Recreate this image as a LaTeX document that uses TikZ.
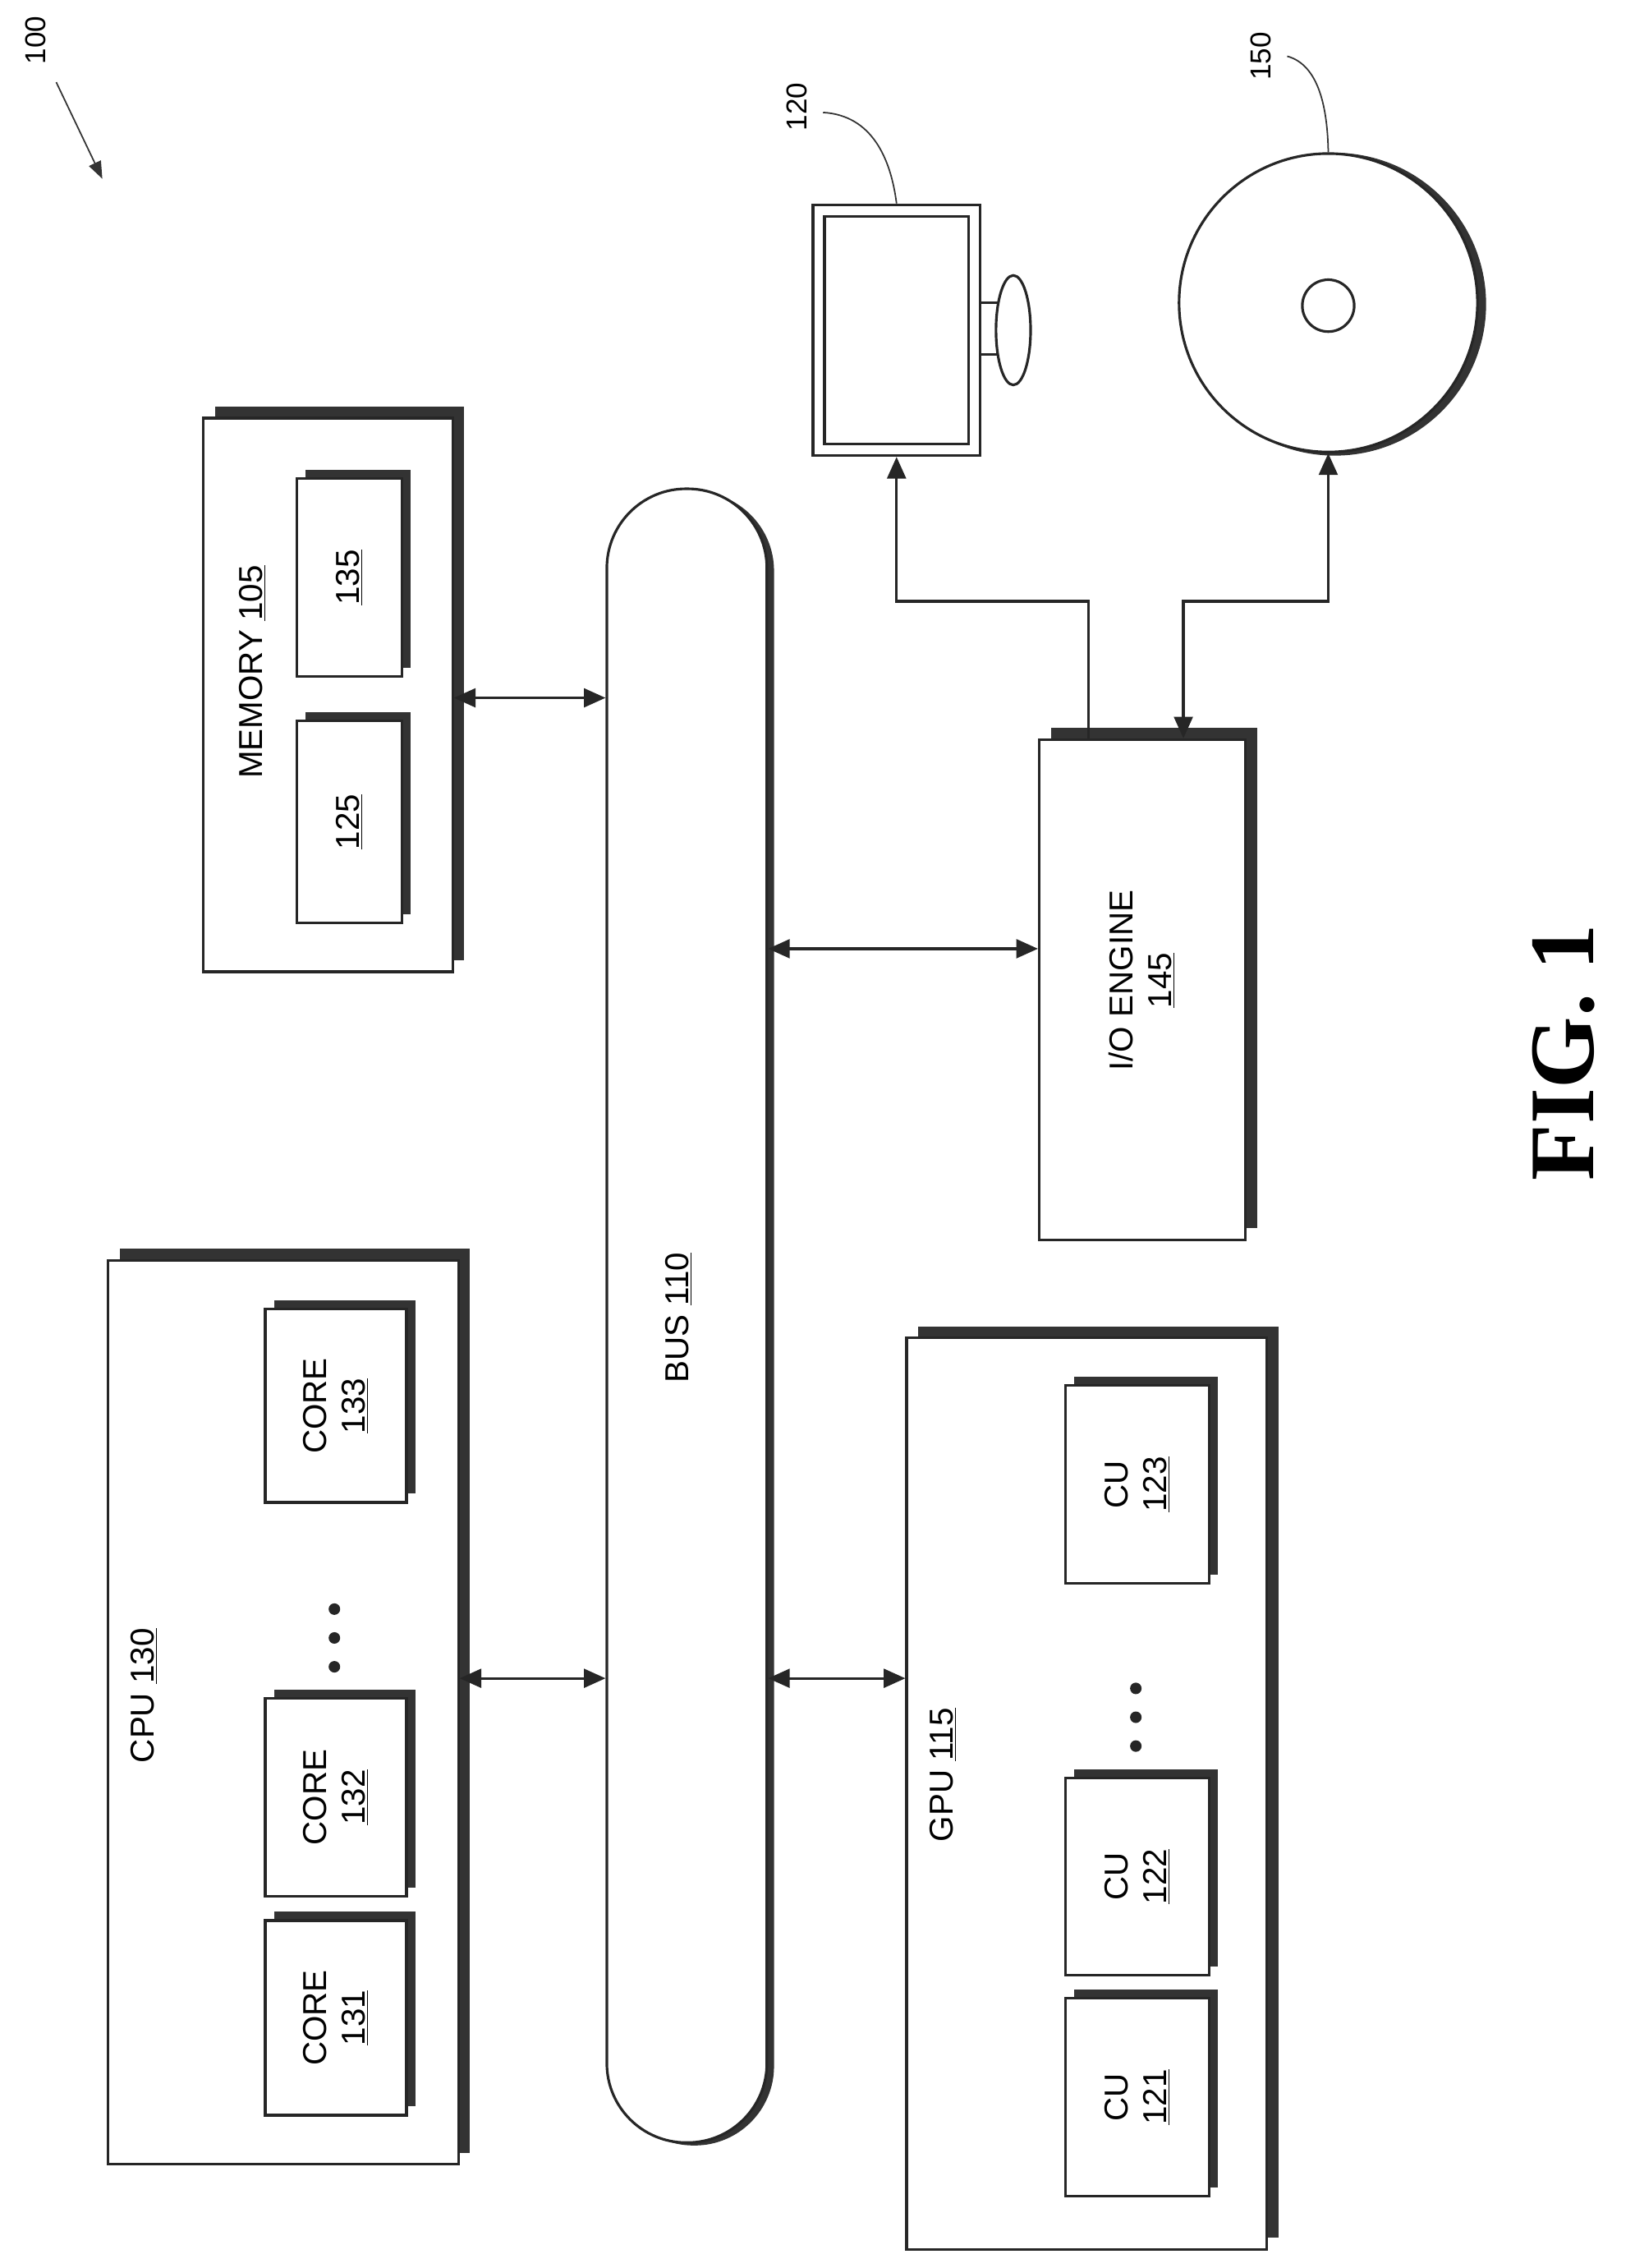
\documentclass[tikz,border=0pt]{standalone}
\usepackage{fontspec}
\setmainfont{Liberation Sans}
\newfontfamily\figfont{Liberation Serif}
\usetikzlibrary{shadows,arrows.meta,calc}
\begin{document}
\begin{tikzpicture}[x=1pt,y=1pt,
  ln/.style={draw=black!85,line width=1.8pt},
  box/.style={ln,fill=white,rectangle,inner sep=0pt,
    general shadow={shadow xshift=8pt,shadow yshift=8pt,fill=black!80}},
  sbox/.style={ln,fill=white,rectangle,inner sep=0pt,
    general shadow={shadow xshift=6pt,shadow yshift=6pt,fill=black!80}},
  lbl/.style={rotate=90,font=\fontsize{23}{27}\selectfont,align=center,inner sep=0pt},
  ref/.style={rotate=90,font=\fontsize{20}{24}\selectfont,inner sep=0pt},
  arr/.style={ln,-{Triangle[length=15pt,width=13pt]}},
  darr/.style={ln,{Triangle[length=15pt,width=13pt]}-{Triangle[length=15pt,width=13pt]}},
  lead/.style={draw=black!80,line width=1pt},
  dot/.style={circle,fill=black!85,inner sep=0pt,minimum size=8pt}]
\useasboundingbox (0,0) rectangle (1134,-1573);

% reference 100
\node[ref] (r100) at (25,-28) {100};
\coordinate (r100e) at (71,-124);
\draw[lead,-{Triangle[length=12pt,width=9pt]}] (39,-57) -- (r100e);

% bus
\node[ln,fill=white,rectangle,rounded corners=55pt,minimum width=111pt,minimum height=1147pt,
  general shadow={shadow xshift=5pt,shadow yshift=-2pt,fill=black!80}] (bus) at (476.5,-912.5) {};
\node[lbl] (busl) at (471,-914) {BUS \underline{110}};

% memory
\node[box,minimum width=173pt,minimum height=384pt] (mem) at (227.5,-482) {};
\node[lbl] (meml) at (175,-466) {MEMORY \underline{105}};
\node[sbox,minimum width=73pt,minimum height=137pt] (m135) at (242.5,-400.5) {};
\node[lbl] at (m135) {\underline{135}};
\node[sbox,minimum width=73pt,minimum height=140pt] (m125) at (242.5,-570) {};
\node[lbl] at (m125) {\underline{125}};

% CPU
\node[box,minimum width=243pt,minimum height=627pt] (cpu) at (196.5,-1187.5) {};
\node[lbl] (cpul) at (100,-1176) {CPU \underline{130}};
\node[sbox,minimum width=98pt,minimum height=134pt] (c133) at (233,-975) {};
\node[lbl] at (c133) {CORE\\\underline{133}};
\node[sbox,minimum width=98pt,minimum height=137pt] (c132) at (233,-1246.5) {};
\node[lbl] at (c132) {CORE\\\underline{132}};
\node[sbox,minimum width=98pt,minimum height=135pt] (c131) at (233,-1399.5) {};
\node[lbl] at (c131) {CORE\\\underline{131}};
\node[dot] (cd1) at (232,-1116) {};
\node[dot] (cd2) at (232,-1136) {};
\node[dot] (cd3) at (232,-1156) {};

% GPU
\node[box,minimum width=250pt,minimum height=632pt] (gpu) at (754,-1244) {};
\node[lbl] (gpul) at (654,-1231) {GPU \underline{115}};
\node[sbox,minimum width=100pt,minimum height=137pt] (u123) at (789,-1029.5) {};
\node[lbl] at (u123) {CU\\\underline{123}};
\node[sbox,minimum width=100pt,minimum height=137pt] (u122) at (789,-1301.5) {};
\node[lbl] at (u122) {CU\\\underline{122}};
\node[sbox,minimum width=100pt,minimum height=137pt] (u121) at (789,-1454.5) {};
\node[lbl] at (u121) {CU\\\underline{121}};
\node[dot] (gd1) at (788,-1171) {};
\node[dot] (gd2) at (788,-1191) {};
\node[dot] (gd3) at (788,-1211) {};

% I/O engine
\node[box,minimum width=143pt,minimum height=347pt] (io) at (792.5,-686.5) {};
\node[lbl] (iol) at (792,-680) {I/O ENGINE\\\underline{145}};

% monitor
\node[ln,fill=white,rectangle,minimum width=116pt,minimum height=174pt,inner sep=0pt] (mon) at (622,-229) {};
\draw[ln] (572,-150) rectangle (672,-308);
\draw[ln] (680,-210) rectangle (696,-246);
\draw[ln,fill=white] (703,-229) ellipse [x radius=12pt,y radius=38pt];
\node[ref] (r120) at (553,-74) {120};
\draw[lead] (571,-78) .. controls (605,-80) and (618,-110) .. (mon.north);

% disk
\node[circle,fill=black!80,minimum size=210pt,inner sep=0pt] (dsh) at (926,-211) {};
\node[ln,circle,fill=white,minimum size=207pt,inner sep=0pt] (disk) at (921.5,-210) {};
\node[ln,circle,minimum size=36pt,inner sep=0pt] (hole) at (921.5,-212) {};
\node[ref] (r150) at (875,-39) {150};
\draw[lead] (893,-39) .. controls (915,-45) and (921,-75) .. (disk.north);

% connectors
\coordinate (ym) at (0,-484);
\coordinate (yc) at (0,-1164);
\coordinate (yi) at (0,-658);
\draw[darr] (mem.east |- ym) -- (bus.west |- ym);
\draw[darr] (cpu.east |- yc) -- (bus.west |- yc);
\draw[darr] (bus.east |- yc) -- (gpu.west |- yc);
\draw[darr] (bus.east |- yi) -- (io.west |- yi);
\coordinate (j1) at (755,-417);
\coordinate (j2) at (821,-417);
\draw[arr] (io.north -| j1) -- (j1) -| (mon.south);
\draw[darr] (io.north -| j2) -- (j2) -| (disk.south);

% figure label
\node[rotate=90,font=\figfont\bfseries\fontsize{64}{70}\selectfont,inner sep=0pt] (fig) at (1085,-730) {FIG. 1};
\end{tikzpicture}
\end{document}
